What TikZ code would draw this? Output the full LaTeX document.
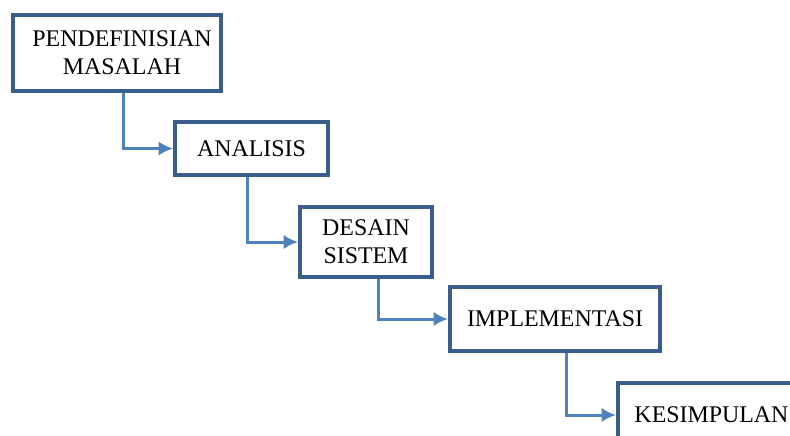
\documentclass[tikz,border=0pt]{standalone}
\usepackage{fontspec}
\setmainfont{Liberation Serif}
\usetikzlibrary{positioning}
\usetikzlibrary{arrows.meta}
\definecolor{boxblue}{RGB}{58,94,140}
\definecolor{flowblue}{RGB}{79,129,189}

\begin{document}
\begin{tikzpicture}[
        stage/.style={draw=boxblue, line width=1mm, fill=white, inner sep=0pt,
          align=center, font=\fontsize{17}{20}\selectfont},
        flow/.style={draw=flowblue, line width=0.75mm, arrows={-{Latex[length=3.6mm,width=3.6mm]}}}]
        % Fix the page size
        \useasboundingbox (0,0) rectangle (19.75,10.875);
        % Draw the stages
        \node [stage, minimum width=5.2cm, minimum height=1.9cm] (masalah) at (2.925, 9.55) {\hspace{0.25cm}PENDEFINISIAN\\\hspace{0.25cm}MASALAH};
        \node [stage, minimum width=3.825cm, minimum height=1.325cm] (analisis) at (6.2875, 7.1625) {ANALISIS};
        \node [stage, minimum width=3.3cm, minimum height=1.75cm] (desain) at (9.15, 4.825) {DESAIN\\SISTEM};
        \node [stage, minimum width=5.25cm, minimum height=1.6cm] (implementasi) at (13.875, 2.9) {IMPLEMENTASI};
        \node [stage, minimum width=4.675cm, minimum height=1.6cm] (kesimpulan) at (17.7875, 0.5) {KESIMPULAN};
        % Connect the stages (down, then right into the next box)
        \draw [flow] ([xshift=0.15cm]masalah.south) |- (analisis.west);
        \draw [flow] ([xshift=-0.1125cm]analisis.south) |- (desain.west);
        \draw [flow] ([xshift=0.3cm]desain.south) |- (implementasi.west);
        \draw [flow] ([xshift=0.275cm]implementasi.south) |- (kesimpulan.west);
      \end{tikzpicture}
\end{document}
